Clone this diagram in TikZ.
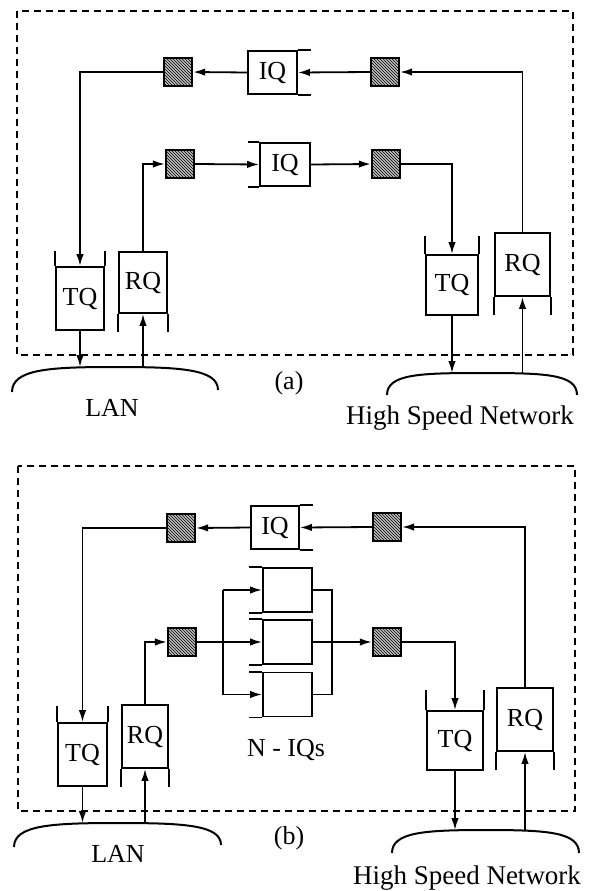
\documentclass[tikz,border=0pt]{standalone}
\usepackage{fontspec}
\setmainfont{Liberation Serif}
\usetikzlibrary{arrows.meta,patterns}

\begin{document}
\begin{tikzpicture}[x=1pt,y=-1pt,
  every node/.style={font=\fontsize{26}{28}\selectfont},
  queue/.style={draw, line width=1.9pt, inner sep=0pt},
  gate/.style={draw, line width=2.3pt, minimum size=28pt, inner sep=0pt,
               preaction={fill=gray!50}, pattern=north west lines},
  arr/.style={-{Latex[length=12pt,width=7.5pt]}, line width=1.8pt},
  wire/.style={line width=1.8pt},
  qline/.style={line width=1.9pt},
  frame/.style={line width=1.4pt, dash pattern=on 7pt off 5pt},
  net/.style={line width=2pt},
]
\useasboundingbox (0,0) rectangle (589,891);

% ---------- (a) ----------
\draw[frame] (17,11) rectangle (573,355);

\node[queue, minimum width=49pt, minimum height=43pt] (iqA1) at (272.5,72.5) {IQ};
\node[queue, minimum width=50pt, minimum height=43pt] (iqA2) at (285,164.5) {IQ};
\node[gate] (sqA1) at (178,72) {};
\node[gate] (sqA2) at (385,72) {};
\node[gate] (sqA3) at (180,164) {};
\node[gate] (sqA4) at (386,164) {};

\node[queue, minimum width=48pt, minimum height=63pt] (tqA1) at (80,298.5) {TQ};
\node[queue, minimum width=48pt, minimum height=61pt] (rqA1) at (143,282.5) {RQ};
\node[queue, minimum width=52pt, minimum height=60pt] (tqA2) at (452,285) {TQ};
\node[queue, minimum width=55pt, minimum height=63pt] (rqA2) at (522.5,264.5) {RQ};

% open ends of the queues
\draw[qline] (iqA1.north east) -- ++(13,0) (iqA1.south east) -- ++(13,0);
\draw[qline] (iqA2.north west) -- ++(-11,0) (iqA2.south west) -- ++(-11,0);
\draw[qline] (tqA1.north west) -- ++(0,-15) (tqA1.north east) -- ++(0,-15);
\draw[qline] (rqA1.south west) -- ++(0,18) (rqA1.south east) -- ++(0,18);
\draw[qline] (tqA2.north west) -- ++(0,-18) (tqA2.north east) -- ++(0,-18);
\draw[qline] (rqA2.south west) -- ++(0,18) (rqA2.south east) -- ++(0,18);

% networks
\draw[net] (12,392) .. controls (12,369) and (50,367) .. (115,367)
  .. controls (180,367) and (218,369) .. (218,390);
\coordinate (lanA) at (115,367);
\draw[net] (387,395) .. controls (387,374) and (420,373) .. (482,373)
  .. controls (545,373) and (577,374) .. (577,395);
\coordinate (hsnA) at (482,373);
\node (lanTextA) at (112,408) {LAN};
\node (capA) at (289,383) {(a)};
\node[font=\fontsize{27}{29}\selectfont] (hsnTextA) at (460,418) {High Speed Network};

\draw[arr] (rqA2.north) |- (sqA2.east);
\draw[arr] (sqA2.west) -- (iqA1.east);
\draw[arr] (iqA1.west) -- (sqA1.east);
\draw[arr] (sqA1.west) -| (tqA1.north);
\draw[arr] (tqA1.south) -- (tqA1.south |- lanA);
\draw[arr] (rqA1.south |- lanA) -- (rqA1.south);
\draw[arr] (rqA1.north) |- (sqA3.west);
\draw[arr] (sqA3.east) -- (iqA2.west);
\draw[arr] (iqA2.east) -- (sqA4.west);
\draw[arr] (sqA4.east) -| (tqA2.north);
\draw[arr] (tqA2.south) -- (tqA2.south |- hsnA);
\draw[arr] (rqA2.south |- hsnA) -- (rqA2.south);

% ---------- (b) ----------
\draw[frame] (18,466) rectangle (575,811);

\node[queue, minimum width=48pt, minimum height=43pt] (iqB1) at (275,527.5) {IQ};
\node[queue, minimum width=49pt, minimum height=44pt] (iqN1) at (287.5,590) {};
\node[queue, minimum width=49pt, minimum height=44pt] (iqN2) at (287.5,642) {};
\node[queue, minimum width=49pt, minimum height=44pt] (iqN3) at (287.5,694.5) {};
\node[gate] (sqB1) at (181,528) {};
\node[gate] (sqB2) at (387,527) {};
\node[gate] (sqB3) at (182,642) {};
\node[gate] (sqB4) at (387,642) {};
\coordinate (split) at (223,642);
\coordinate (merge) at (332,642);

\node[queue, minimum width=49pt, minimum height=63pt] (tqB1) at (82.5,754.5) {TQ};
\node[queue, minimum width=46pt, minimum height=63pt] (rqB1) at (145,736.5) {RQ};
\node[queue, minimum width=56pt, minimum height=59pt] (tqB2) at (455,740.5) {TQ};
\node[queue, minimum width=56pt, minimum height=63pt] (rqB2) at (525,719.5) {RQ};
\node (nIqs) at (286,750) {N - IQs};

% open ends of the queues
\draw[qline] (iqB1.north east) -- ++(13,0) (iqB1.south east) -- ++(13,0);
\foreach \q in {iqN1,iqN2,iqN3}
  \draw[qline] (\q.north west) -- ++(-13,0) (\q.south west) -- ++(-13,0);
\draw[qline] (tqB1.north west) -- ++(0,-16) (tqB1.north east) -- ++(0,-16);
\draw[qline] (rqB1.south west) -- ++(0,18) (rqB1.south east) -- ++(0,18);
\draw[qline] (tqB2.north west) -- ++(0,-20) (tqB2.north east) -- ++(0,-20);
\draw[qline] (rqB2.south west) -- ++(0,18) (rqB2.south east) -- ++(0,18);

% networks
\draw[net] (14,847) .. controls (14,825) and (52,823) .. (118,823)
  .. controls (184,823) and (221,825) .. (221,845);
\coordinate (lanB) at (118,823);
\draw[net] (392,853) .. controls (392,832) and (425,830) .. (486,830)
  .. controls (547,830) and (579,832) .. (579,853);
\coordinate (hsnB) at (486,830);
\node (lanTextB) at (118,854) {LAN};
\node (capB) at (289,838) {(b)};
\node[font=\fontsize{27}{29}\selectfont] (hsnTextB) at (467,878) {High Speed Network};

\draw[arr] (rqB2.north) |- (sqB2.east);
\draw[arr] (sqB2.west) -- (iqB1.east);
\draw[arr] (iqB1.west) -- (sqB1.east);
\draw[arr] (sqB1.west) -| (tqB1.north);
\draw[arr] (tqB1.south) -- (tqB1.south |- lanB);
\draw[arr] (rqB1.south |- lanB) -- (rqB1.south);
\draw[arr] (rqB1.north) |- (sqB3.west);
\draw[arr] (sqB3.east) -- (iqN2.west);
\draw[arr] (split |- iqN1.west) -- (iqN1.west);
\draw[arr] (split |- iqN3.west) -- (iqN3.west);
\draw[wire] (split |- iqN1.west) -- (split |- iqN3.west);
\draw[wire] (iqN1.east) -| (merge) |- (iqN3.east);
\draw[arr] (iqN2.east) -- (sqB4.west);
\draw[arr] (sqB4.east) -| (tqB2.north);
\draw[arr] (tqB2.south) -- (tqB2.south |- hsnB);
\draw[arr] (rqB2.south |- hsnB) -- (rqB2.south);
\end{tikzpicture}
\end{document}
